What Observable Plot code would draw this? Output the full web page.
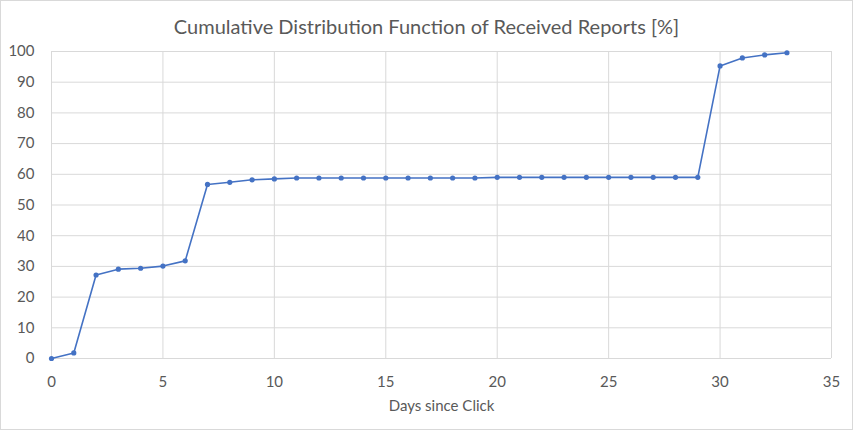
<!DOCTYPE html>
<html>
<head>
<meta charset="utf-8">
<script src="https://cdn.jsdelivr.net/npm/d3@7"></script>
<script src="https://cdn.jsdelivr.net/npm/@observablehq/plot@0.6"></script>
<style>
  html, body { margin: 0; padding: 0; background: #fff; }
  #chart svg { display: block; outline: 1px solid #d9d9d9; outline-offset: -1px; }
</style>
</head>
<body>
<div id="chart"></div>
<script>
const titleText = "Cumulative Distribution Function of Received Reports [%]";
const xLabel = "Days since Click";
const days = [0,1,2,3,4,5,6,7,8,9,10,11,12,13,14,15,16,17,18,19,20,21,22,23,24,25,26,27,28,29,30,31,32,33];
const cdf = [0,1.8,27.2,29.1,29.4,30.1,31.8,56.7,57.4,58.2,58.5,58.8,58.8,58.8,58.8,58.8,58.8,58.8,58.8,58.8,59.0,59.0,59.0,59.0,59.0,59.0,59.0,59.0,59.0,59.0,95.3,97.9,98.9,99.6];
const xTicks = [0,5,10,15,20,25,30,35];
const yTicks = [0,10,20,30,40,50,60,70,80,90,100];

const data = days.map((d, i) => ({day: d, value: cdf[i]}));
const blue = "#4472C4";
const gray = "#595959";
const font = "Lato, 'Open Sans', sans-serif";

const chart = Plot.plot({
  width: 853,
  height: 430,
  marginTop: 51,
  marginLeft: 51,
  marginRight: 22,
  marginBottom: 72,
  style: {fontFamily: font, fontSize: "15px", color: gray, background: "#fff"},
  x: {domain: [0, 35], ticks: xTicks, label: null},
  y: {domain: [0, 100], ticks: yTicks, label: null},
  marks: [
    Plot.gridX(xTicks, {stroke: "#d9d9d9", strokeOpacity: 1}),
    Plot.gridY(yTicks, {stroke: "#d9d9d9", strokeOpacity: 1}),
    Plot.axisX({ticks: xTicks, tickSize: 0, tickPadding: 18, fill: gray, fontSize: 15, label: null}),
    Plot.axisY({ticks: yTicks, tickSize: 0, tickPadding: 17, fill: gray, fontSize: 15, label: null}),
    Plot.line(data, {x: "day", y: "value", stroke: blue, strokeWidth: 1.6}),
    Plot.dot(data, {x: "day", y: "value", fill: blue, r: 2.6}),
    Plot.text([titleText], {frameAnchor: "top", dy: -32, dx: -15, text: d => d, fill: gray, fontSize: 20, fontFamily: font}),
    Plot.text([xLabel], {frameAnchor: "bottom", dy: 52, dx: 0, text: d => d, fill: gray, fontSize: 15, fontFamily: font})
  ]
});
document.getElementById("chart").appendChild(chart);
</script>
</body>
</html>
